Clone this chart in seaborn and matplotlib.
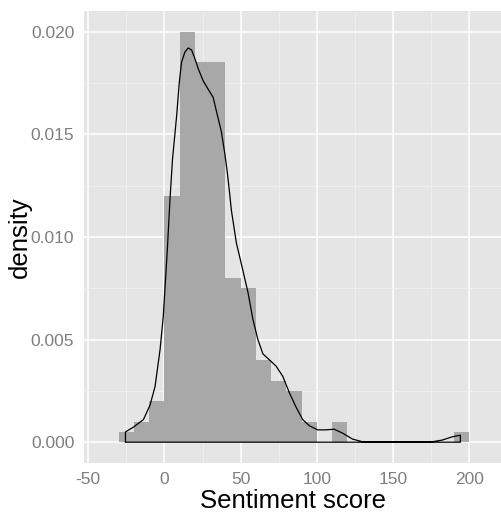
import numpy as np
import pandas as pd
import matplotlib
matplotlib.use("Agg")
import matplotlib.pyplot as plt
import seaborn as sns

# histogram: bins of width 10, counts per bin (n = 200)
bin_edges = list(range(-30, 210, 10))
bin_counts = [1, 2, 4, 24, 40, 37, 37, 16, 15, 8, 6, 5, 2, 0, 2,
              0, 0, 0, 0, 0, 0, 0, 1]

# density curve (outline closed down to zero like geom_density)
dens_x = [-25.6, -25.6, -20.4, -13.8, -9.5, -6.2, -2.9, -0.8, 1.9, 3.6, 5.3, 8.0,
          9.7, 11.2, 13.4, 15.6, 17.8, 19.9, 22.1, 25.4, 28.6, 31.9, 34.5, 37.4,
          39.5, 41.3, 42.8, 43.9, 47.2, 50.4, 54.8, 58.0, 61.3, 64.6, 69.0, 73.3,
          77.7, 82.0, 86.4, 90.7, 95.1, 100.5, 106.0, 111.4, 116.9, 123.4, 130.0,
          175.7, 182.2, 188.8, 194.2, 194.2, -25.6]
dens_y = [0.0, 0.0005, 0.00073, 0.0011, 0.0018, 0.0027, 0.0045, 0.0061, 0.0094,
          0.0118, 0.0138, 0.0159, 0.0175, 0.0185, 0.0190, 0.0192, 0.0191, 0.0187,
          0.0182, 0.0176, 0.0172, 0.0168, 0.0160, 0.0151, 0.0141, 0.0131, 0.0121,
          0.0113, 0.0097, 0.0087, 0.0073, 0.0060, 0.0050, 0.0043, 0.0040, 0.0037,
          0.0032, 0.0024, 0.0017, 0.0011, 0.0008, 0.0006, 0.0006, 0.00063, 0.00044,
          0.00015, 0.00002, 0.00002, 0.0001, 0.00026, 0.00034, 0.0, 0.0]

x_ticks = [-50, 0, 50, 100, 150, 200]
y_ticks = [0.000, 0.005, 0.010, 0.015, 0.020]

sns.set_style("darkgrid", {"axes.facecolor": "#E5E5E5", "grid.color": "white"})
plt.rcParams["font.family"] = ["Liberation Sans", "DejaVu Sans"]

fig = plt.figure(figsize=(5.02, 5.15), dpi=100)
ax = fig.add_axes([84 / 502, 1 - 462.7 / 515, 1 - 84 / 502, (462.7 - 11) / 515])

centers = [(a + b) / 2 for a, b in zip(bin_edges[:-1], bin_edges[1:])]
sns.histplot(x=centers, weights=bin_counts, bins=bin_edges, stat="density",
             color="#A8A8A8", alpha=1, edgecolor="none", linewidth=0, ax=ax)
sns.lineplot(x=dens_x, y=dens_y, sort=False, estimator=None, color="black",
             linewidth=0.9, ax=ax)

ax.set_xlim(-52.8, 221.5)
ax.set_ylim(-0.001, 0.021)
ax.set_xticks(x_ticks)
ax.set_yticks(y_ticks)
ax.set_xticklabels([str(t) for t in x_ticks])
ax.set_yticklabels([f"{t:.3f}" for t in y_ticks])
ax.set_xticks([-25, 25, 75, 125, 175], minor=True)
ax.set_yticks([0.0025, 0.0075, 0.0125, 0.0175], minor=True)
ax.grid(which="major", color="white", linewidth=1.1)
ax.grid(which="minor", color="#F2F2F2", linewidth=0.5)
ax.set_axisbelow(True)
for s in ax.spines.values():
    s.set_visible(False)
ax.tick_params(which="major", length=4, width=0.8, color="#7F7F7F",
               labelcolor="#7F7F7F", labelsize=12.5, pad=3)
ax.tick_params(which="minor", length=0)
ax.set_xlabel("Sentiment score", fontsize=18.5, color="black", labelpad=1)
ax.set_ylabel("density", fontsize=18.5, color="black", labelpad=4)
ax.yaxis.set_label_coords(-0.125, 0.5)

fig.savefig("out.png", dpi=100)
